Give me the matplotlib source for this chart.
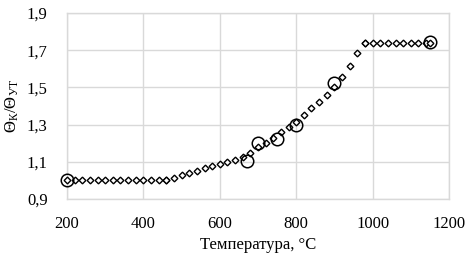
import numpy as np
import matplotlib.pyplot as plt

plt.rcParams["font.family"] = ["Liberation Serif", "DejaVu Serif"]
plt.rcParams["mathtext.fontset"] = "custom"
plt.rcParams["mathtext.rm"] = "Liberation Serif"
plt.rcParams["mathtext.it"] = "Liberation Serif"

# ---------------------------------------------------------------
# Data
# calculated curve, three parts
t_low = [200, 220, 240, 260, 280, 300, 320, 340, 360, 380, 400, 420, 440, 460]
r_low = [1.0] * len(t_low)

t_mid = [460, 480, 500, 520, 540, 560, 580, 600, 620, 640, 660, 680, 700,
         720, 740, 760, 780, 800, 820, 840, 860, 880, 900, 920, 940, 960, 980]
r_mid = [1.0, 1.015, 1.027, 1.040, 1.053, 1.066, 1.077, 1.088, 1.098, 1.110,
         1.128, 1.150, 1.178, 1.203, 1.230, 1.258, 1.288, 1.316, 1.352, 1.388,
         1.422, 1.460, 1.500, 1.555, 1.615, 1.683, 1.740]

t_high = [980, 1000, 1020, 1040, 1060, 1080, 1100, 1120, 1140, 1150]
r_high = [1.74] * len(t_high)

# experimental points
t_exp = [200, 670, 700, 750, 800, 900, 1150]
r_exp = [1.0, 1.105, 1.20, 1.225, 1.30, 1.525, 1.745]

# ---------------------------------------------------------------
fig = plt.figure(figsize=(4.73, 2.59), dpi=100)
ax = fig.add_axes([67 / 473, 1 - 199 / 259, (449 - 67) / 473, (199 - 13) / 259])

for t, r in [(t_low, r_low), (t_mid, r_mid), (t_high, r_high)]:
    ax.plot(t, r, linestyle="none", marker="D", markersize=3.4,
            markerfacecolor="white", markeredgecolor="black",
            markeredgewidth=1.0, zorder=3, clip_on=False)

ax.plot(t_exp, r_exp, linestyle="none", marker="o", markersize=9,
        markerfacecolor="none", markeredgecolor="black",
        markeredgewidth=1.1, zorder=4, clip_on=False)

ax.set_xlim(200, 1200)
ax.set_ylim(0.9, 1.9)
ax.set_xticks(np.arange(200, 1201, 200))
ax.set_yticks([0.9, 1.1, 1.3, 1.5, 1.7, 1.9])
ax.set_yticklabels(["0,9", "1,1", "1,3", "1,5", "1,7", "1,9"])

ax.grid(True, color="#d9d9d9", linewidth=1.0)
ax.set_axisbelow(True)
for s in ax.spines.values():
    s.set_color("#d9d9d9")
    s.set_linewidth(1.0)
ax.tick_params(axis="y", length=0, labelsize=12, pad=14)
ax.tick_params(axis="x", length=0, labelsize=12, pad=12)

ax.set_xlabel("Температура, °С", fontsize=12, labelpad=4)
ax.set_ylabel("Θ$_{\\mathrm{К}}$/Θ$_{\\mathrm{УТ}}$", fontsize=12, labelpad=4)

plt.savefig("out.png", dpi=100)
